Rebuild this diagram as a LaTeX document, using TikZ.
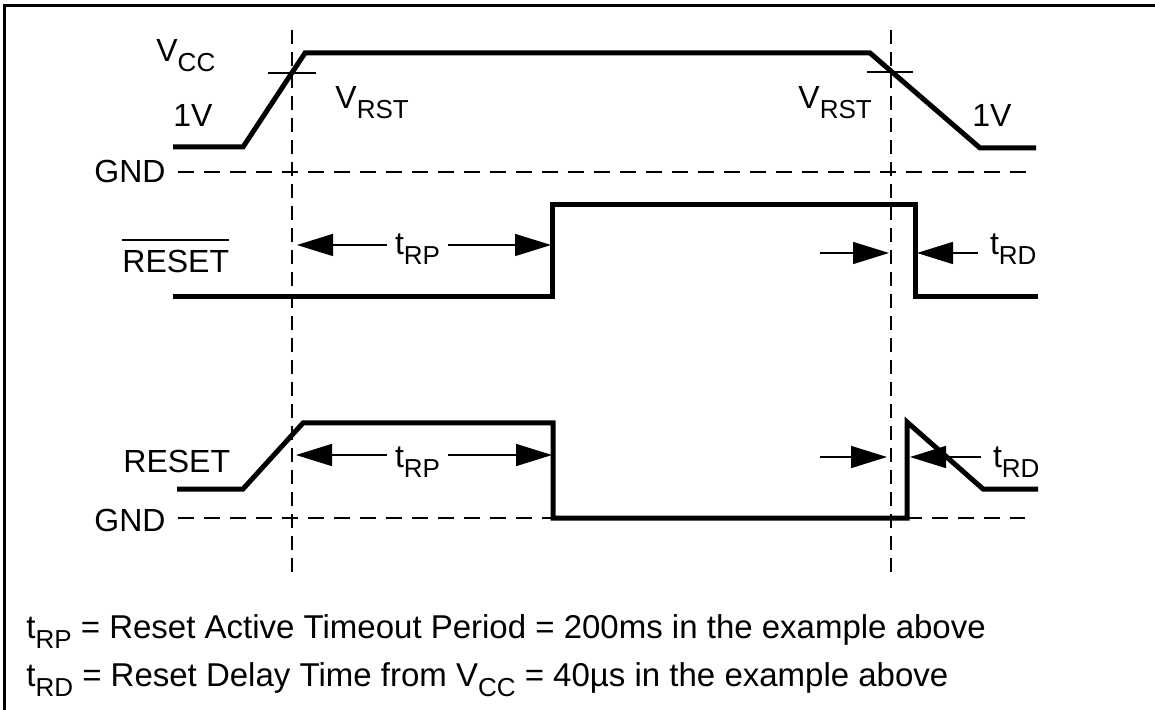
\documentclass[tikz,border=0pt]{standalone}
\usepackage{fontspec}
\setmainfont{Liberation Sans}
\usetikzlibrary{arrows.meta, positioning}

\newcommand{\subtx}[1]{\raisebox{-5pt}{\fontsize{13}{13}\selectfont #1}}

\begin{document}
\begin{tikzpicture}[x=0.5pt, y=-0.5pt,
    wave/.style={line width=2.5pt, line join=miter},
    guide/.style={line width=1pt, dash pattern=on 7pt off 4pt},
    gnd/.style={line width=1pt, dash pattern=on 8pt off 5pt},
    lbl/.style={font=\fontsize{16}{19}\selectfont, inner sep=0pt, anchor=base west},
    tarrow/.style={-{Triangle[length=18pt,width=11pt]}, line width=0.8pt},
    note/.style={font=\fontsize{16.5}{19}\selectfont, inner sep=0pt, anchor=base west}
]
\useasboundingbox (0,0) rectangle (1155,710);
\draw[line width=1.5pt] (4,710) -- (4,6) -- (1155,6);

% guides at V_RST
\draw[guide] (292,30) -- (292,578);
\draw[guide] (891,30) -- (891,578);

% VCC
\node[lbl] (vcc) at (156,62) {V\subtx{CC}};
\node[lbl] (onel) at (173,127) {1V};
\node[lbl] (vrstl) at (335,109) {V\subtx{RST}};
\node[lbl] (vrstr) at (798,109) {V\subtx{RST}};
\node[lbl] (oner) at (972,127) {1V};
\node[lbl] (gndtop) at (94,183) {GND};
\draw[gnd] ([xshift=6pt]gndtop.east |- 0,172) -- (1030,172);
\draw[wave] (173,147) -- (243,147) -- (305,53) -- (870,53) -- (980,148) -- (1036,148);
\draw[line width=1pt] (268,73) -- (316,73);
\draw[line width=1pt] (867,72) -- (913,72);

% RESET (active low)
\node[lbl] (rstb) at (122,273) {RESET};
\draw[line width=1.2pt] ([yshift=5pt]rstb.north west) -- ([yshift=5pt]rstb.north east);
\draw[wave] (173,297) -- (552,297) -- (552,205) -- (915,205) -- (915,297) -- (1038,297);
\node[lbl, outer sep=4pt] (trp1) at (387,255) {t\subtx{RP}};
\coordinate (rp1l) at (297,245);
\coordinate (rp1r) at (551,245);
\draw[tarrow] (trp1.west |- rp1l) -- (rp1l);
\draw[tarrow] (trp1.east |- rp1r) -- (rp1r);
\node[lbl, outer sep=6pt] (trd1) at (978,255) {t\subtx{RD}};
\coordinate (rd1a) at (820,253);
\coordinate (rd1b) at (889,253);
\coordinate (rd1r) at (917,253);
\draw[tarrow] (rd1a) -- (rd1b);
\draw[tarrow] (trd1.west |- rd1r) -- (rd1r);

% RESET (active high)
\node[lbl] (rst) at (123,473) {RESET};
\node[lbl] (gndlow) at (94,531) {GND};
\draw[gnd] ([xshift=6pt]gndlow.east |- 0,518) -- (1025,518);
\draw[wave] (177,489) -- (243,489) -- (303,423) -- (553,423) -- (553,518) -- (907,518) -- (907,422) -- (983,489) -- (1038,489);
\node[lbl, outer sep=4pt] (trp2) at (387,467) {t\subtx{RP}};
\coordinate (rp2l) at (296,455);
\coordinate (rp2r) at (552,455);
\draw[tarrow] (trp2.west |- rp2l) -- (rp2l);
\draw[tarrow] (trp2.east |- rp2r) -- (rp2r);
\node[lbl, outer sep=6pt] (trd2) at (981,467) {t\subtx{RD}};
\coordinate (rd2a) at (820,457);
\coordinate (rd2b) at (887,457);
\coordinate (rd2r) at (910,457);
\draw[tarrow] (rd2a) -- (rd2b);
\draw[tarrow] (trd2.west |- rd2r) -- (rd2r);

% definitions
\node[note] (defrp) at (26,638) {t\subtx{RP} = Reset Active Timeout Period = 200ms in the example above};
\node[note] (defrd) at (26,686) {t\subtx{RD} = Reset Delay Time from V\subtx{CC} = 40µs in the example above};
\end{tikzpicture}
\end{document}
